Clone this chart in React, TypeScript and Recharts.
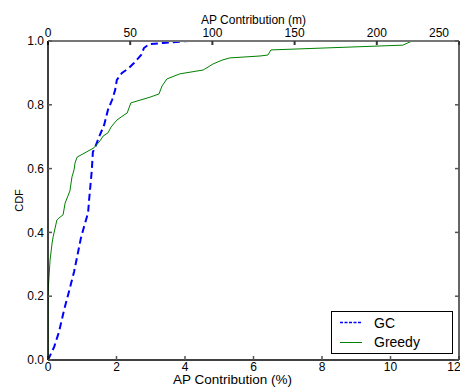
import { LineChart, Line, XAxis, YAxis, Legend, Label } from 'recharts';

const FONT = '"Liberation Sans", Arial, sans-serif';

// AP contribution (%) vs CDF
const GC_X = [0, 0.18, 0.32, 0.47, 0.64, 0.76, 0.85, 0.96, 1.05, 1.17, 1.2, 1.28, 1.31, 1.37, 1.49, 1.64, 1.75, 1.87, 1.96, 2.01, 2.16, 2.36, 2.51, 2.72, 2.8, 2.95, 3.36, 4.09];
const GC_Y = [0, 0.041, 0.088, 0.157, 0.226, 0.276, 0.323, 0.382, 0.417, 0.461, 0.502, 0.596, 0.652, 0.665, 0.699, 0.737, 0.784, 0.815, 0.846, 0.878, 0.9, 0.915, 0.931, 0.956, 0.978, 0.99, 0.994, 1.0];

const GREEDY_X = [0, 0, 0.015, 0.06, 0.12, 0.15, 0.26, 0.32, 0.44, 0.5, 0.64, 0.7, 0.76, 0.79, 0.85, 1.34, 1.52, 1.61, 1.75, 1.84, 2.01, 2.22, 2.31, 2.42, 2.98, 3.24, 3.33, 3.47, 3.85, 4.53, 4.82, 5.08, 5.31, 6.19, 6.42, 6.51, 10.36, 10.63];
const GREEDY_Y = [0, 0.2, 0.235, 0.313, 0.367, 0.386, 0.439, 0.445, 0.455, 0.492, 0.53, 0.574, 0.596, 0.618, 0.636, 0.665, 0.687, 0.702, 0.712, 0.73, 0.752, 0.768, 0.774, 0.806, 0.824, 0.834, 0.859, 0.881, 0.897, 0.909, 0.928, 0.94, 0.947, 0.953, 0.956, 0.972, 0.987, 1.0];

const PCT_TICKS = [0, 2, 4, 6, 8, 10, 12];
const M_TICKS = [0, 50, 100, 150, 200, 250];
const CDF_TICKS = [0, 0.2, 0.4, 0.6, 0.8, 1.0];

const gcData = GC_X.map((x, i) => ({ x, y: GC_Y[i] }));
const greedyData = GREEDY_X.map((x, i) => ({ x, y: GREEDY_Y[i] }));
// invisible series so the top (metres) and right axes get drawn
const meterData = M_TICKS.map((m, i) => ({ m, y: CDF_TICKS[i] }));

const SERIES = [
  { name: 'GC', color: '#0000ff', dash: '7 4', width: 2 },
  { name: 'Greedy', color: '#008000', dash: undefined, width: 1 },
];

const tickStyle = { fontFamily: FONT, fontSize: 12, fill: '#000' };

function TopTick({ x, y, payload }: any) {
  const last = payload.value === 250;
  return (
    <text x={last ? x + 1 : x} y={y} textAnchor={last ? 'end' : 'middle'} {...tickStyle}>
      {payload.value}
    </text>
  );
}

function LegendBox() {
  return (
    <div style={{ position: 'relative', width: 122, height: 43, border: '1px solid #000', boxSizing: 'border-box', background: '#fff', fontFamily: FONT, fontSize: 14 }}>
      {SERIES.map((s, i) => (
        <div key={s.name} style={{ position: 'absolute', left: 0, top: 2 + i * 19.5, height: 17, display: 'flex', alignItems: 'center' }}>
          <svg width={42} height={17}>
            <line x1={8} x2={30} y1={8.5} y2={8.5} stroke={s.color} strokeWidth={s.width === 2 ? 1.5 : 1} strokeDasharray={s.dash ? '3 1.5' : undefined} />
          </svg>
          <span>{s.name}</span>
        </div>
      ))}
    </div>
  );
}

export default function App() {
  return (
    <div style={{ position: 'fixed', left: 0, top: 0, width: 460, height: 388, background: '#fff' }}>
      <LineChart width={460} height={388} margin={{ top: 0, right: 0, bottom: 0, left: 0 }}>
        <XAxis
          xAxisId="pct"
          dataKey="x"
          type="number"
          domain={[0, 12]}
          ticks={PCT_TICKS}
          allowDataOverflow
          height={28}
          tickSize={-4}
          tickMargin={6}
          stroke="#000"
          strokeWidth={1.5}
          tick={tickStyle}
          tickLine={{ stroke: '#555' }}
        >
          <Label value="AP Contribution (%)" position="insideBottom" dx={-21} dy={1} style={{ fontFamily: FONT, fontSize: 13.5, fill: '#000' }} />
        </XAxis>
        <XAxis
          xAxisId="m"
          dataKey="m"
          orientation="top"
          type="number"
          domain={[0, 250]}
          ticks={M_TICKS}
          allowDataOverflow
          height={41}
          tickSize={-4}
          tickMargin={8}
          stroke="#777"
          strokeWidth={2}
          tick={<TopTick />}
          tickLine={{ stroke: '#333' }}
        >
          <Label value="AP Contribution (m)" position="insideTop" dy={10} style={{ fontFamily: FONT, fontSize: 12, fill: '#000' }} />
        </XAxis>
        <YAxis
          yAxisId="cdf"
          type="number"
          domain={[0, 1]}
          ticks={CDF_TICKS}
          allowDataOverflow
          width={48}
          tickSize={-4}
          tickMargin={8}
          stroke="#000"
          strokeWidth={1.5}
          tick={tickStyle}
          tickLine={{ stroke: '#555' }}
          tickFormatter={(v: number) => v.toFixed(1)}
        >
          <Label value="CDF" angle={-90} position="insideLeft" dx={14} style={{ fontFamily: FONT, fontSize: 11, fill: '#000', textAnchor: 'middle' }} />
        </YAxis>
        <YAxis
          yAxisId="right"
          orientation="right"
          type="number"
          domain={[0, 1]}
          ticks={CDF_TICKS}
          allowDataOverflow
          width={1}
          tickSize={-4}
          stroke="#333"
          strokeWidth={1.5}
          tickLine={{ stroke: '#555' }}
          tickFormatter={() => ''}
        />
        <Line
          xAxisId="m"
          yAxisId="right"
          data={meterData}
          dataKey="y"
          stroke="none"
          legendType="none"
          dot={false}
          activeDot={false}
          isAnimationActive={false}
        />
        <Line
          xAxisId="pct"
          yAxisId="cdf"
          data={gcData}
          dataKey="y"
          name="GC"
          type="linear"
          stroke={SERIES[0].color}
          strokeWidth={2}
          strokeDasharray={SERIES[0].dash}
          dot={false}
          isAnimationActive={false}
        />
        <Line
          xAxisId="pct"
          yAxisId="cdf"
          data={greedyData}
          dataKey="y"
          name="Greedy"
          type="linear"
          stroke={SERIES[1].color}
          strokeWidth={1}
          dot={false}
          isAnimationActive={false}
        />
        <Legend
          layout="vertical"
          align="center"
          verticalAlign="middle"
          content={() => <LegendBox />}
          wrapperStyle={{ left: 331, top: 311, width: 122, height: 43 }}
        />
      </LineChart>
    </div>
  );
}
